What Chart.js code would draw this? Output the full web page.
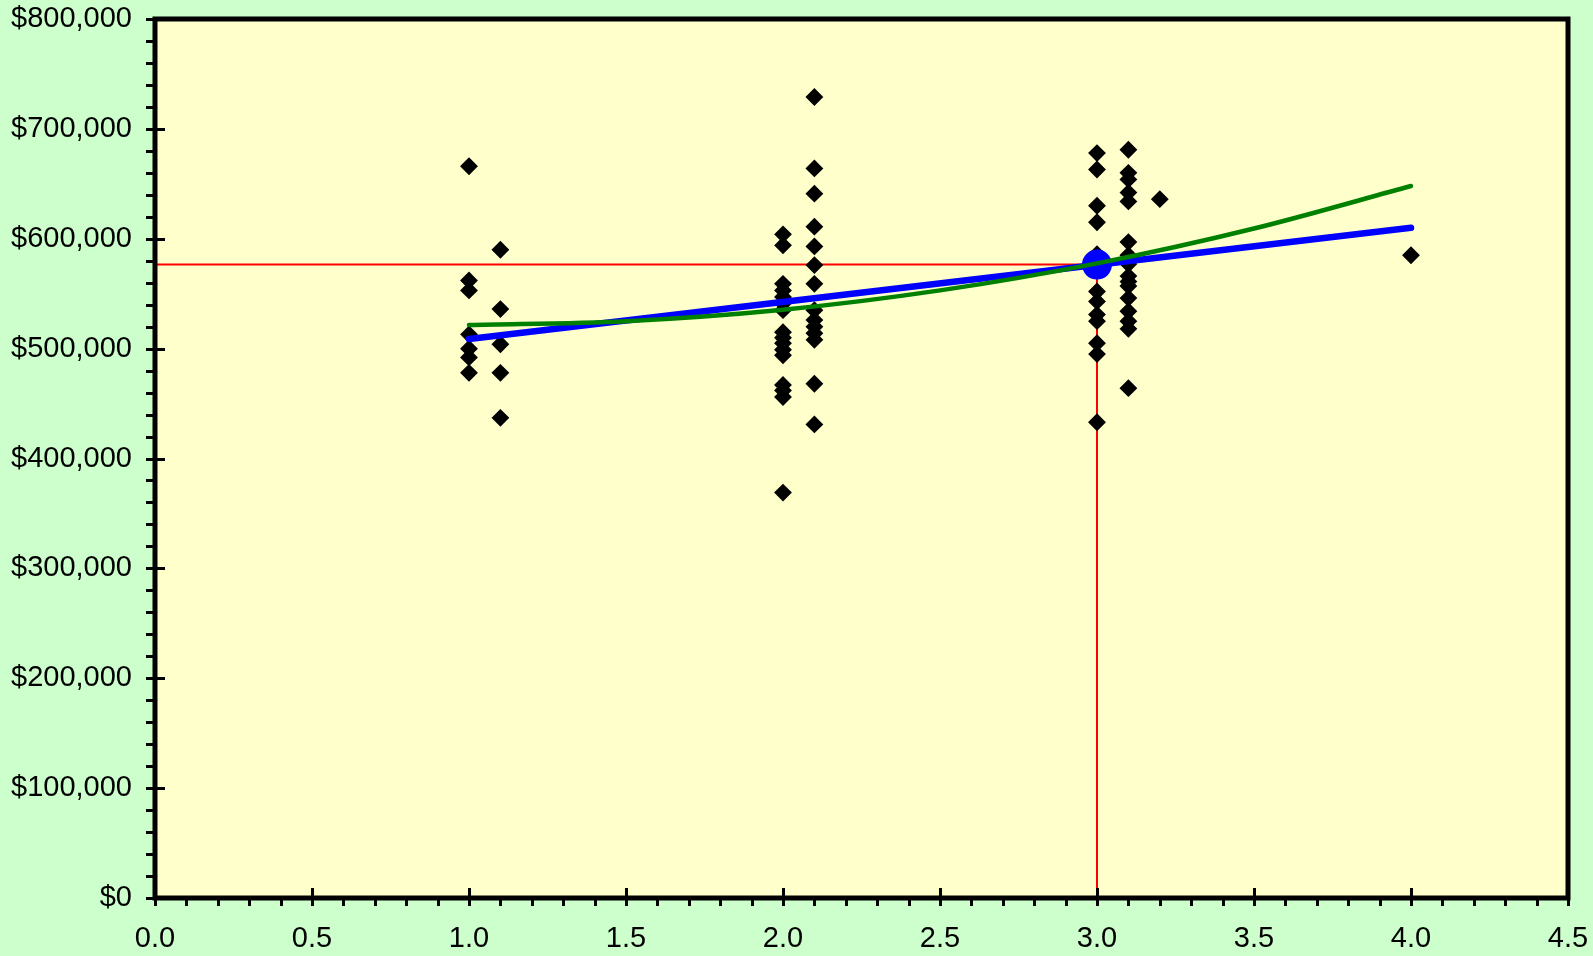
<!DOCTYPE html>
<html>
<head>
<meta charset="utf-8">
<script src="https://cdn.jsdelivr.net/npm/chart.js@4/dist/chart.umd.min.js"></script>
<style>
  html, body { margin: 0; padding: 0; background: #CCFFCC; overflow: hidden; }
  canvas { display: block; }
</style>
</head>
<body>
<canvas id="chart" width="1593" height="956"></canvas>
<script>
// Sale prices observed at each x value
const columnX = [1.0, 1.1, 2.0, 2.1, 3.0, 3.1, 3.2, 4.0];
const prices1_0 = [666000, 562000, 553000, 513000, 500000, 492000, 478000];
const prices1_1 = [590000, 536000, 504000, 478000, 437000];
const prices2_0 = [604000, 594000, 559000, 553000, 547000, 541000, 535000, 515000, 510000, 505000, 499000, 494000, 467000, 462000, 456000, 369000];
const prices2_1 = [729000, 664000, 641000, 611000, 593000, 576000, 559000, 535000, 526000, 520000, 514000, 508000, 468000, 431000];
const prices3_0 = [678000, 663000, 630000, 615000, 586000, 552000, 543000, 531000, 525000, 505000, 495000, 433000];
const prices3_1 = [681000, 660000, 654000, 642000, 634000, 597000, 585000, 577000, 566000, 561000, 557000, 546000, 534000, 525000, 518000, 464000];
const prices3_2 = [636000];
const prices4_0 = [585000];
const columnPrices = [prices1_0, prices1_1, prices2_0, prices2_1, prices3_0, prices3_1, prices3_2, prices4_0];

// Straight-line trend (end points)
const linearX = [1.0, 4.0];
const linearY = [508700, 610000];

// Curved trend
const curveX = [1.0, 1.5, 2.0, 2.5, 3.0, 3.5, 4.0];
const curveY = [521500, 525000, 535400, 553000, 577600, 609300, 648000];

// Highlighted estimate with its guide lines
const markX = 3.0;
const markY = 576500;

// Axis ranges and tick steps
const xMin = 0, xMax = 4.5, xMajor = 0.5, xMinor = 0.1;
const yMin = 0, yMax = 800000, yMajor = 100000, yMinor = 20000;

const observations = [];
columnX.forEach((x, i) => columnPrices[i].forEach(y => observations.push({ x, y })));

const pairs = (xs, ys) => xs.map((x, i) => ({ x, y: ys[i] }));

const FONT = { family: '"Liberation Sans", Arial, sans-serif', size: 29 };

// Backgrounds, heavy frame and tick marks
const framePlugin = {
  id: 'frame',
  beforeDraw(chart) {
    const { ctx, chartArea: a } = chart;
    ctx.save();
    ctx.fillStyle = '#CCFFCC';
    ctx.fillRect(0, 0, chart.width, chart.height);
    ctx.fillStyle = '#FFFFCC';
    ctx.fillRect(a.left, a.top, a.right - a.left, a.bottom - a.top);
    ctx.restore();
  },
  afterDraw(chart) {
    const { ctx, chartArea: a, scales } = chart;
    const xs = scales.x, ys = scales.y;
    ctx.save();
    ctx.strokeStyle = '#000';
    ctx.lineWidth = 3;
    ctx.lineCap = 'butt';
    ctx.beginPath();
    // y-axis ticks
    const nY = Math.round((yMax - yMin) / yMinor);
    for (let i = 0; i <= nY; i++) {
      const v = yMin + i * yMinor;
      const py = Math.round(ys.getPixelForValue(v)) + 0.5;
      const major = (i * yMinor) % yMajor === 0;
      ctx.moveTo(a.left - 9, py);
      ctx.lineTo(major ? a.left + 10 : a.left, py);
    }
    // x-axis ticks
    const nX = Math.round((xMax - xMin) / xMinor);
    const per = Math.round(xMajor / xMinor);
    for (let i = 0; i <= nX; i++) {
      const v = xMin + i * xMinor;
      const px = Math.round(xs.getPixelForValue(v)) + 0.5;
      const major = i % per === 0;
      ctx.moveTo(px, major ? a.bottom - 10 : a.bottom);
      ctx.lineTo(px, a.bottom + 8);
    }
    ctx.stroke();
    // frame
    ctx.lineWidth = 5;
    ctx.strokeRect(a.left, a.top, a.right - a.left, a.bottom - a.top);
    ctx.restore();
  }
};

new Chart(document.getElementById('chart'), {
  type: 'scatter',
  data: {
    datasets: [
      {
        data: pairs(curveX, curveY),
        showLine: true,
        borderColor: '#008000',
        borderWidth: 4.5,
        borderCapStyle: 'round',
        cubicInterpolationMode: 'monotone',
        pointRadius: 0,
        fill: false
      },
      {
        data: pairs(linearX, linearY),
        showLine: true,
        borderColor: '#0000FF',
        borderWidth: 6.5,
        borderCapStyle: 'round',
        pointRadius: 0,
        fill: false
      },
      {
        data: [{ x: markX, y: markY }],
        pointStyle: 'circle',
        pointRadius: 15,
        backgroundColor: '#0000FF',
        borderWidth: 0
      },
      {
        data: observations,
        pointStyle: 'rectRot',
        pointRadius: 7.5,
        backgroundColor: '#000',
        borderColor: '#000',
        borderWidth: 2
      },
      {
        data: [{ x: xMin, y: markY }, { x: markX, y: markY }],
        showLine: true,
        borderColor: '#FF0000',
        borderWidth: 2,
        pointRadius: 0,
        fill: false
      },
      {
        data: [{ x: markX, y: yMin }, { x: markX, y: markY }],
        showLine: true,
        borderColor: '#FF0000',
        borderWidth: 2,
        pointRadius: 0,
        fill: false
      }
    ]
  },
  options: {
    responsive: false,
    animation: false,
    devicePixelRatio: 1,
    layout: { padding: { left: 0, right: 25, top: 19, bottom: 0 } },
    plugins: { legend: { display: false }, tooltip: { enabled: false } },
    scales: {
      x: {
        type: 'linear',
        min: xMin,
        max: xMax,
        grid: { display: false, drawTicks: false },
        border: { display: false },
        ticks: {
          stepSize: xMajor,
          autoSkip: false,
          maxRotation: 0,
          padding: 24,
          color: '#000',
          font: FONT,
          callback: v => Number(v).toFixed(1)
        },
        afterFit(scale) {
          scale.height = 58;
          scale.paddingLeft = 0;
          scale.paddingRight = 0;
        }
      },
      y: {
        type: 'linear',
        min: yMin,
        max: yMax,
        grid: { display: false, drawTicks: false },
        border: { display: false },
        ticks: {
          stepSize: yMajor,
          autoSkip: false,
          padding: 23,
          color: '#000',
          font: FONT,
          callback: v => '$' + Number(v).toLocaleString('en-US')
        },
        afterFit(scale) {
          scale.width = 155;
          scale.paddingTop = 0;
          scale.paddingBottom = 0;
        }
      }
    }
  },
  plugins: [framePlugin]
});
</script>
</body>
</html>
